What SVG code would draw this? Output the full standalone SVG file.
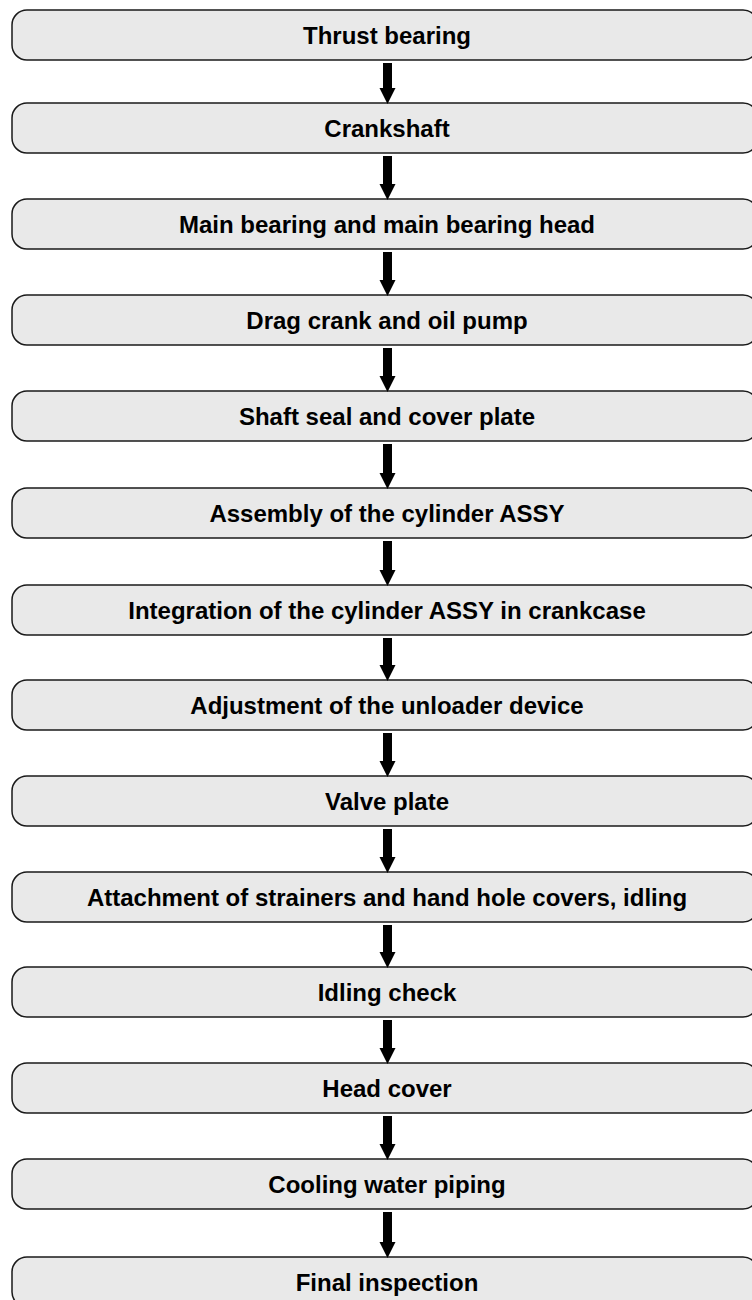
<svg xmlns="http://www.w3.org/2000/svg" width="752" height="1300" viewBox="0 0 752 1300">
<style>
.box{fill:#e9e9e9;stroke:#1a1a1a;stroke-width:1.5}
.lbl{font-family:"Liberation Sans",Arial,sans-serif;font-weight:bold;font-size:24px;fill:#000;text-anchor:middle}
.arr{fill:#000}
</style>
<rect width="752" height="1300" fill="#fff"/>
<g id="n1"><rect class="box" x="12" y="10" width="746" height="50" rx="15"/><text class="lbl" x="387" y="43.5">Thrust bearing</text></g>
<g id="n2"><rect class="box" x="12" y="103" width="746" height="50" rx="15"/><text class="lbl" x="387" y="136.5">Crankshaft</text></g>
<g id="n3"><rect class="box" x="12" y="199" width="746" height="50" rx="15"/><text class="lbl" x="387" y="232.5">Main bearing and main bearing head</text></g>
<g id="n4"><rect class="box" x="12" y="295" width="746" height="50" rx="15"/><text class="lbl" x="387" y="328.5">Drag crank and oil pump</text></g>
<g id="n5"><rect class="box" x="12" y="391" width="746" height="50" rx="15"/><text class="lbl" x="387" y="424.5">Shaft seal and cover plate</text></g>
<g id="n6"><rect class="box" x="12" y="488" width="746" height="50" rx="15"/><text class="lbl" x="387" y="521.5">Assembly of the cylinder ASSY</text></g>
<g id="n7"><rect class="box" x="12" y="585" width="746" height="50" rx="15"/><text class="lbl" x="387" y="618.5">Integration of the cylinder ASSY in crankcase</text></g>
<g id="n8"><rect class="box" x="12" y="680" width="746" height="50" rx="15"/><text class="lbl" x="387" y="713.5">Adjustment of the unloader device</text></g>
<g id="n9"><rect class="box" x="12" y="776" width="746" height="50" rx="15"/><text class="lbl" x="387" y="809.5">Valve plate</text></g>
<g id="n10"><rect class="box" x="12" y="872" width="746" height="50" rx="15"/><text class="lbl" x="387" y="905.5">Attachment of strainers and hand hole covers, idling</text></g>
<g id="n11"><rect class="box" x="12" y="967" width="746" height="50" rx="15"/><text class="lbl" x="387" y="1000.5">Idling check</text></g>
<g id="n12"><rect class="box" x="12" y="1063" width="746" height="50" rx="15"/><text class="lbl" x="387" y="1096.5">Head cover</text></g>
<g id="n13"><rect class="box" x="12" y="1159" width="746" height="50" rx="15"/><text class="lbl" x="387" y="1192.5">Cooling water piping</text></g>
<g id="n14"><rect class="box" x="12" y="1257" width="746" height="50" rx="15"/><text class="lbl" x="387" y="1290.5">Final inspection</text></g>
<g id="connectors" class="arr">
<polygon points="383,63 392,63 392,88 395.5,88 387.5,104 379.5,88 383,88"/>
<polygon points="383,156 392,156 392,184 395.5,184 387.5,200 379.5,184 383,184"/>
<polygon points="383,252 392,252 392,280 395.5,280 387.5,296 379.5,280 383,280"/>
<polygon points="383,348 392,348 392,376 395.5,376 387.5,392 379.5,376 383,376"/>
<polygon points="383,444 392,444 392,473 395.5,473 387.5,489 379.5,473 383,473"/>
<polygon points="383,541 392,541 392,570 395.5,570 387.5,586 379.5,570 383,570"/>
<polygon points="383,638 392,638 392,665 395.5,665 387.5,681 379.5,665 383,665"/>
<polygon points="383,733 392,733 392,761 395.5,761 387.5,777 379.5,761 383,761"/>
<polygon points="383,829 392,829 392,857 395.5,857 387.5,873 379.5,857 383,857"/>
<polygon points="383,925 392,925 392,952 395.5,952 387.5,968 379.5,952 383,952"/>
<polygon points="383,1020 392,1020 392,1048 395.5,1048 387.5,1064 379.5,1048 383,1048"/>
<polygon points="383,1116 392,1116 392,1144 395.5,1144 387.5,1160 379.5,1144 383,1144"/>
<polygon points="383,1212 392,1212 392,1242 395.5,1242 387.5,1258 379.5,1242 383,1242"/>
</g>
</svg>
